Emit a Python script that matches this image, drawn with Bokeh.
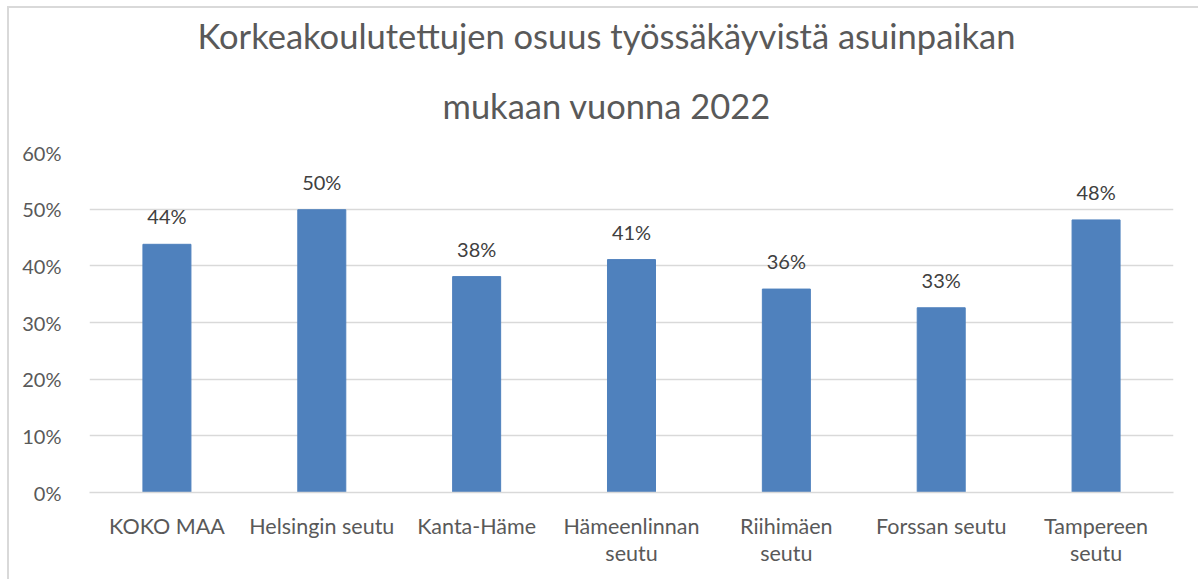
from bokeh.plotting import figure
from bokeh.models import (ColumnDataSource, NumeralTickFormatter, FixedTicker, Title,
                          LinearAxis, Range1d, CustomJSTickFormatter)
from bokeh.core.properties import value
from bokeh.embed import file_html
from bokeh.resources import INLINE

categories = ["KOKO MAA", "Helsingin seutu", "Kanta-Häme", "Hämeenlinnan seutu",
              "Riihimäen seutu", "Forssan seutu", "Tampereen seutu"]
label_line1 = ["KOKO MAA", "Helsingin seutu", "Kanta-Häme", "Hämeenlinnan",
               "Riihimäen", "Forssan seutu", "Tampereen"]
label_line2 = ["", "", "", "seutu", "seutu", "", "seutu"]
shares = [0.438, 0.499, 0.381, 0.411, 0.359, 0.326, 0.481]
y_ticks = [0, 0.1, 0.2, 0.3, 0.4, 0.5, 0.6]
title_lines = ["Korkeakoulutettujen osuus työssäkäyvistä asuinpaikan", "mukaan vuonna 2022"]

FONT = "Lato"
GREY = "#595959"

# category i sits at position i of the x scale
idx = list(range(len(categories)))
src = ColumnDataSource(dict(x=idx, cat=categories, val=shares,
                            lab=[f"{round(v*100):.0f}%" for v in shares]))

p = figure(x_range=Range1d(-0.5, len(categories) - 0.5), y_range=(0, 0.6),
           width=1191, height=573, output_backend="svg", toolbar_location=None,
           min_border_left=80, min_border_right=27, min_border_top=144, min_border_bottom=89)
p.styles = {"margin-left": "7px", "margin-top": "6px",
            "border-left": "2px solid #d9d9d9", "border-top": "2px solid #d9d9d9"}
p.outline_line_color = None
p.background_fill_color = "white"
p.border_fill_color = "white"

p.vbar(x="x", top="val", width=0.31, source=src, fill_color="#4f81bd", line_color="#4f81bd")
p.text(x="x", y="val", text="lab", source=src, text_align="center", text_baseline="bottom",
       y_offset=-16, text_font=value(FONT), text_font_size="20px", text_color="#404040")

p.xgrid.grid_line_color = None
p.ygrid.grid_line_color = "#d9d9d9"
p.ygrid.grid_line_width = 1.5
p.yaxis.ticker = FixedTicker(ticks=y_ticks)
p.yaxis.formatter = NumeralTickFormatter(format="0%")

xa1 = p.xaxis[0]
ax2 = LinearAxis()
p.add_layout(ax2, "below")
for ax in (xa1, p.yaxis[0], ax2):
    ax.axis_line_color = None
    ax.major_tick_line_color = None
    ax.minor_tick_line_color = None
    ax.major_label_text_font = FONT
    ax.major_label_text_font_size = "20px"
    ax.major_label_text_color = GREY
p.yaxis.major_label_standoff = 22

code = "const s = lines[Math.round(tick)]; return s === undefined ? '' : s;"
for ax, lines in ((xa1, label_line1), (ax2, label_line2)):
    ax.ticker = FixedTicker(ticks=idx)
    ax.formatter = CustomJSTickFormatter(args=dict(lines=lines), code=code)
    ax.major_label_text_font_size = "21.5px"
xa1.axis_line_color = "#d9d9d9"
xa1.axis_line_width = 1.5
xa1.major_label_standoff = 14
try:
    ax2.major_label_standoff = -8
except Exception:
    ax2.major_label_standoff = 0

# nearest-to-plot title first; the later one stacks above it
t2 = Title(text=title_lines[1], align="left", offset=353, standoff=54,
           text_font=FONT, text_font_size="34.5px", text_font_style="normal", text_color=GREY)
t1 = Title(text=title_lines[0], align="left", offset=108, standoff=0,
           text_font=FONT, text_font_size="34.5px", text_font_style="normal", text_color=GREY)
p.add_layout(t2, "above")
p.add_layout(t1, "above")

open("out.html", "w").write(file_html(p, INLINE))
